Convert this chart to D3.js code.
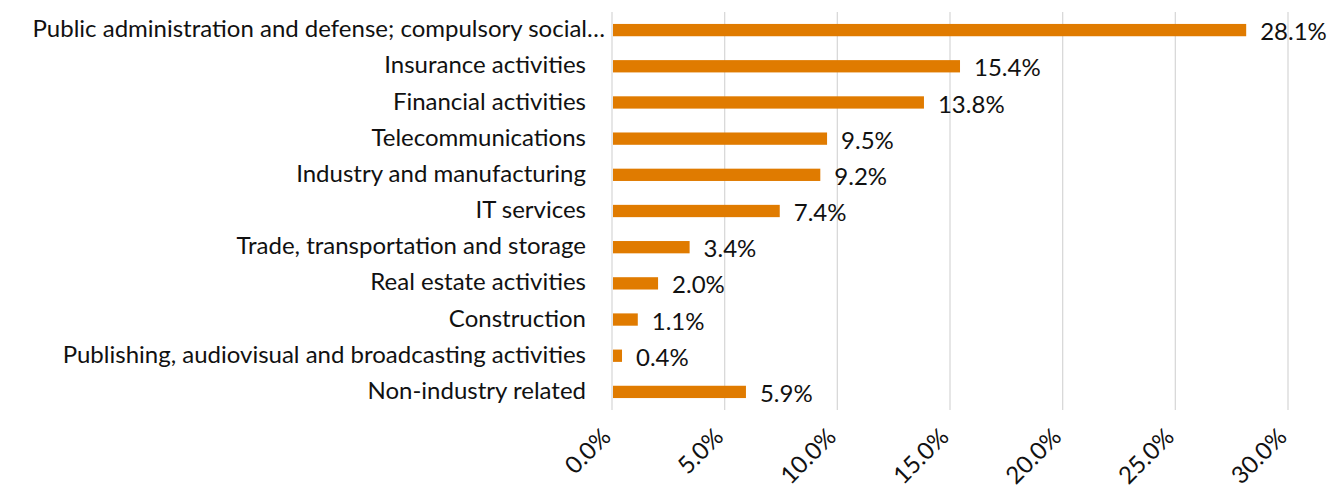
<!DOCTYPE html>
<html>
<head>
<meta charset="utf-8">
<script src="https://cdn.jsdelivr.net/npm/d3@7"></script>
<style>
  body { margin: 0; background: #fff; }
  svg { display: block; font-family: Lato, "Open Sans", sans-serif; }
</style>
</head>
<body>
<div id="chart"></div>
<script>
// Data
const categories = [
  'Public administration and defense; compulsory social…',
  'Insurance activities',
  'Financial activities',
  'Telecommunications',
  'Industry and manufacturing',
  'IT services',
  'Trade, transportation and storage',
  'Real estate activities',
  'Construction',
  'Publishing, audiovisual and broadcasting activities',
  'Non-industry related'
];
const values = [28.1, 15.4, 13.8, 9.5, 9.2, 7.4, 3.4, 2.0, 1.1, 0.4, 5.9];
const tickValues = [0, 5, 10, 15, 20, 25, 30];

const W = 1327, H = 488;
const margin = { top: 12, right: 39, bottom: 78, left: 612 };
const FS = 24;

const svg = d3.select('#chart').append('svg')
  .attr('width', W)
  .attr('height', H);

const x = d3.scaleLinear()
  .domain([0, 30])
  .range([margin.left, W - margin.right]);

const y = d3.scaleBand()
  .domain(categories)
  .range([margin.top, H - margin.bottom])
  .paddingInner(0.66)
  .paddingOuter(0.33);

// Gridlines
svg.append('g')
  .selectAll('line')
  .data(tickValues)
  .join('line')
  .attr('x1', d => x(d))
  .attr('x2', d => x(d))
  .attr('y1', margin.top)
  .attr('y2', H - margin.bottom)
  .attr('stroke', '#d9d9d9')
  .attr('stroke-width', 1.3);

// Bars
svg.append('g')
  .selectAll('rect')
  .data(values)
  .join('rect')
  .attr('x', x(0) + 1)
  .attr('y', (d, i) => y(categories[i]))
  .attr('width', d => x(d) - x(0))
  .attr('height', y.bandwidth())
  .attr('fill', '#E07B00');

// Value labels
svg.append('g')
  .selectAll('text')
  .data(values)
  .join('text')
  .attr('x', d => x(d) + 15)
  .attr('y', (d, i) => y(categories[i]) + y.bandwidth() / 2 + 4)
  .attr('dominant-baseline', 'middle')
  .attr('font-size', FS)
  .attr('fill', '#111')
  .text(d => d.toFixed(1) + '%');

// Category labels (the truncated one overflows toward the axis, as in Excel)
svg.append('g')
  .selectAll('text')
  .data(categories)
  .join('text')
  .attr('x', d => margin.left - (d.endsWith('…') ? 7 : 26))
  .attr('y', d => y(d) + y.bandwidth() / 2 + 1)
  .attr('dominant-baseline', 'middle')
  .attr('text-anchor', 'end')
  .attr('font-size', FS)
  .attr('fill', '#111')
  .text(d => d);

// X axis tick labels, rotated
svg.append('g')
  .selectAll('text')
  .data(tickValues)
  .join('text')
  .attr('transform', d => `translate(${x(d) - 4},${H - margin.bottom + 24}) rotate(-45)`)
  .attr('text-anchor', 'end')
  .attr('dominant-baseline', 'middle')
  .attr('font-size', FS)
  .attr('fill', '#111')
  .text(d => d.toFixed(1) + '%');
</script>
</body>
</html>
